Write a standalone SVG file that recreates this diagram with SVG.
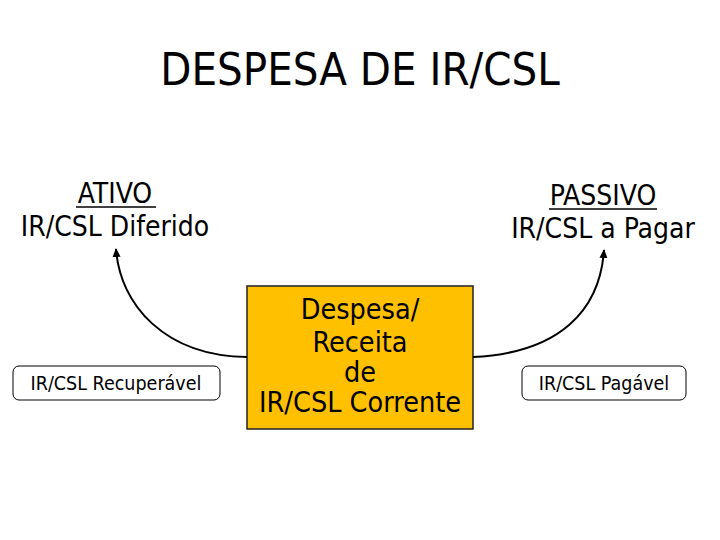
<svg xmlns="http://www.w3.org/2000/svg" width="720" height="540" viewBox="0 0 720 540">
<defs>
<style>
text{font-family:"DejaVu Sans Condensed","DejaVu Sans",sans-serif;fill:#000;text-anchor:middle}
.title{font-size:45px}
.lbl{font-size:28px}
.box{font-size:28.5px}
.small{font-size:19.5px}
.conn{fill:none;stroke:#000;stroke-width:2}
</style>
<marker id="ah" viewBox="0 0 10 10" refX="8" refY="5" markerWidth="5" markerHeight="5" orient="auto">
<path d="M0,1 L9,5 L0,9 z" fill="#000"/>
</marker>
</defs>
<rect width="720" height="540" fill="#fff"/>
<text class="title" x="360" y="85">DESPESA DE IR/CSL</text>
<g id="ativo">
<text class="lbl" x="115" y="203">ATIVO</text>
<line x1="76" y1="207" x2="156" y2="207" stroke="#000" stroke-width="1.5"/>
<text class="lbl" x="115" y="236">IR/CSL Diferido</text>
</g>
<g id="passivo">
<text class="lbl" x="603" y="205">PASSIVO</text>
<line x1="549" y1="209" x2="657" y2="209" stroke="#000" stroke-width="1.5"/>
<text class="lbl" x="603" y="238">IR/CSL a Pagar</text>
</g>
<g id="recuperavel">
<rect x="13" y="366" width="207" height="34" rx="6" fill="#fff" stroke="#000" stroke-width="1"/>
<text class="small" x="116" y="390">IR/CSL Recuperável</text>
</g>
<g id="pagavel">
<rect x="522" y="366" width="164" height="34" rx="6" fill="#fff" stroke="#000" stroke-width="1"/>
<text class="small" x="604" y="390">IR/CSL Pagável</text>
</g>
<g id="corrente">
<rect x="247" y="286" width="226" height="143" fill="#FFC000" stroke="#222" stroke-width="1.5"/>
<text class="box" x="360" y="319">Despesa/</text>
<text class="box" x="360" y="352">Receita</text>
<text class="box" x="360" y="382">de</text>
<text class="box" x="360" y="412">IR/CSL Corrente</text>
</g>
<g id="connectors">
<path class="conn" d="M247 357 C165 356 120 305 116 249" marker-end="url(#ah)"/>
<path class="conn" d="M473 357 C560 353 600 310 604 250" marker-end="url(#ah)"/>
</g>
</svg>
